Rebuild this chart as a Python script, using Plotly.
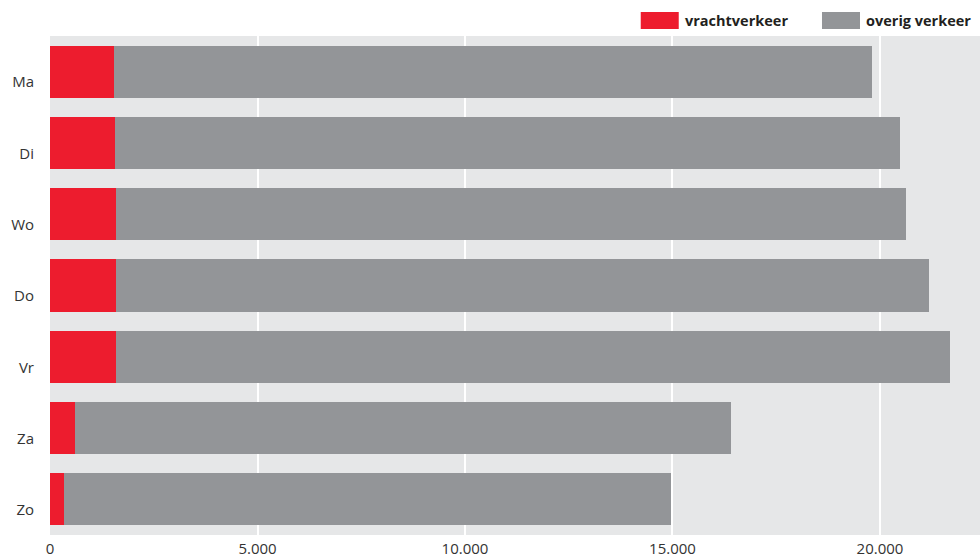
import plotly.graph_objects as go

days = ["Ma", "Di", "Wo", "Do", "Vr", "Za", "Zo"]
vracht = [1550, 1575, 1585, 1590, 1590, 600, 340]
totaal = [19815, 20490, 20630, 21190, 21680, 16420, 14975]
overig = [t - v for t, v in zip(totaal, vracht)]
series_names = ["vrachtverkeer", "overig verkeer"]
tick_vals = [0, 5000, 10000, 15000, 20000]
tick_text = ["0", "5.000", "10.000", "15.000", "20.000"]

RED = "#ed1c2e"
GRAY = "#939598"
BG = "#e6e7e8"
FONT = "Open Sans"

fig = go.Figure()
fig.add_trace(go.Bar(y=days, x=vracht, orientation="h", name=series_names[0],
                     marker=dict(color=RED, line=dict(width=0))))
fig.add_trace(go.Bar(y=days, x=overig, orientation="h", name=series_names[1],
                     marker=dict(color=GRAY, line=dict(width=0))))

fig.update_layout(
    barmode="stack",
    bargap=0.27,
    width=980, height=557,
    margin=dict(l=50, r=0, t=36, b=22, autoexpand=False),
    paper_bgcolor="white",
    plot_bgcolor=BG,
    showlegend=False,
    font=dict(family=FONT, size=15, color="#333333"),
    xaxis=dict(range=[0, 22410], tickvals=tick_vals, ticktext=tick_text,
               showgrid=True, gridcolor="white", gridwidth=2, zeroline=False,
               ticks="outside", ticklen=0, tickcolor="rgba(0,0,0,0)",
               automargin=False,
               tickfont=dict(family=FONT, size=15, color="#333333")),
    yaxis=dict(autorange="reversed", showgrid=False, zeroline=False,
               ticks="", ticklabelposition="outside bottom",
               ticklabelstandoff=15,
               automargin=False,
               tickfont=dict(family=FONT, size=15, color="#333333")),
)

# legend drawn with swatches + labels
legend_items = [(series_names[0], RED, 0.6352), (series_names[1], GRAY, 0.8301)]
for name, col, x0 in legend_items:
    fig.add_shape(type="rect", xref="paper", yref="paper",
                  x0=x0, x1=x0 + 38 / 930, y0=1 + 7 / 499, y1=1 + 24 / 499,
                  fillcolor=col, line=dict(width=0))
    fig.add_annotation(xref="paper", yref="paper", x=x0 + 42 / 930, y=1 + 15.5 / 499,
                       text="<b>" + name + "</b>", showarrow=False,
                       xanchor="left", yanchor="middle",
                       font=dict(family=FONT, size=14.5, color="#231f20"))

fig.write_html("out.html", config={"displayModeBar": False},
               post_script="document.body.style.margin='0';document.body.style.overflow='hidden';")
